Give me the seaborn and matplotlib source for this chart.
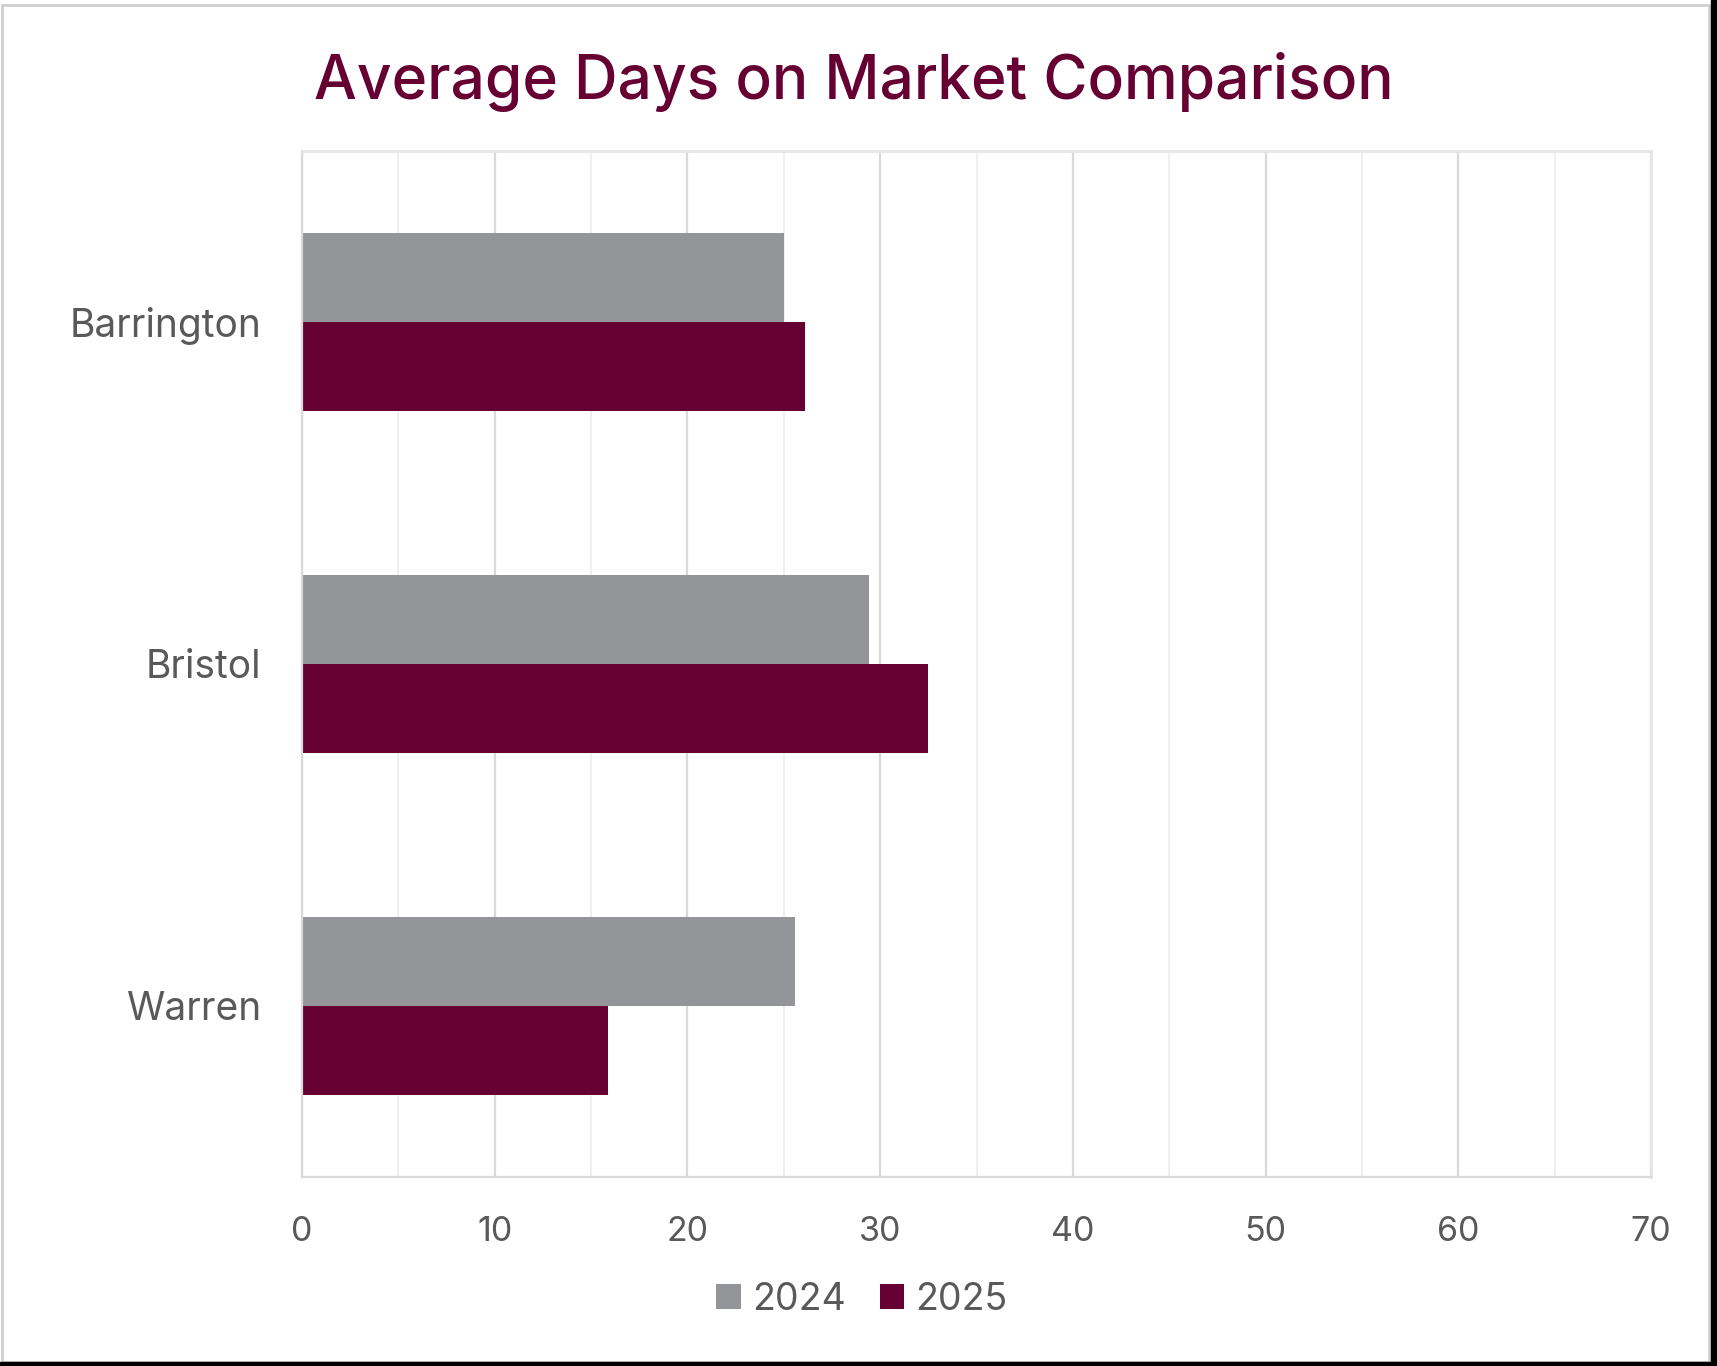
import numpy as np
import pandas as pd
import matplotlib
matplotlib.use("Agg")
import matplotlib.pyplot as plt
import seaborn as sns
from matplotlib.patches import Rectangle
from matplotlib.ticker import MultipleLocator

# datos
areas = ["Barrington", "Bristol", "Warren"]
years = ["2024", "2025"]
days_2024 = [25.0, 29.4, 25.6]
days_2025 = [26.1, 32.5, 15.9]

colors = {"2024": "#939598", "2025": "#660033"}
text_gray = "#595959"

df = pd.DataFrame({
    "area": areas * 2,
    "year": ["2024"] * len(areas) + ["2025"] * len(areas),
    "days": days_2024 + days_2025,
})

sns.set_theme(style="white")
plt.rcParams["font.family"] = ["Inter", "DejaVu Sans"]

fig = plt.figure(figsize=(17.17, 13.66), dpi=100)
fig.patch.set_facecolor("white")
ax = fig.add_axes([0.1759, 0.1384, 0.7857, 0.7511])

sns.barplot(
    data=df,
    x="days",
    y="area",
    hue="year",
    hue_order=years,
    order=areas,
    orient="h",
    palette=colors,
    width=0.52,
    saturation=1,
    linewidth=0,
    errorbar=None,
    ax=ax
)

ax.set_xlim(0, 70)
ax.set_ylim(2.5, -0.5)
ax.xaxis.set_major_locator(MultipleLocator(10))
ax.xaxis.set_minor_locator(MultipleLocator(5))
ax.grid(which="major", axis="x", color="#d9d9d9", linewidth=1.6)
ax.grid(which="minor", axis="x", color="#efefef", linewidth=1.4)
ax.grid(axis="y", visible=False)
ax.set_axisbelow(True)

for side in ["left", "bottom"]:
    ax.spines[side].set_color("#d9d9d9")
    ax.spines[side].set_linewidth(1.6)
for side in ["top", "right"]:
    ax.spines[side].set_color("#e6e6e6")
    ax.spines[side].set_linewidth(2.0)

ax.set_xlabel("")
ax.set_ylabel("")
ax.tick_params(axis="x", which="both", length=0, pad=28, labelsize=24.5, labelcolor=text_gray)
ax.tick_params(axis="y", length=0, pad=29, labelsize=28, labelcolor=text_gray)

handles, labels = ax.get_legend_handles_labels()
ax.get_legend().remove()
fig.legend(
    handles, labels,
    loc="center",
    bbox_to_anchor=(0.502, 1 - 1300 / 1366),
    ncol=2,
    frameon=False,
    fontsize=27,
    handlelength=0.65,
    handleheight=0.65,
    handletextpad=0.3,
    columnspacing=0.9,
    labelcolor=text_gray
)

fig.text(
    0.4975, 1 - 99 / 1366,
    "Average Days on Market Comparison",
    ha="center", va="baseline",
    fontsize=43.5, fontweight="medium", color="#660033"
)

# marco exterior
fig.patches.append(Rectangle((2 / 1717, 4 / 1366), 1707 / 1717, 1357 / 1366,
                             transform=fig.transFigure, fill=False,
                             edgecolor="#d0d0d0", linewidth=2))
fig.patches.append(Rectangle((1711 / 1717, 0), 6 / 1717, 1,
                             transform=fig.transFigure, color="black"))
fig.patches.append(Rectangle((0, 0), 1, 4 / 1366,
                             transform=fig.transFigure, color="black"))

fig.savefig("out.png", dpi=100)
plt.close(fig)
